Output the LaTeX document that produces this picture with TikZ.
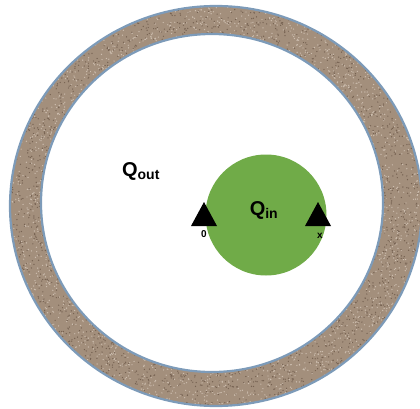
\documentclass[tikz,border=0pt]{standalone}
\usepackage{fontspec}
\setmainfont{Liberation Sans}
\definecolor{ringbrown}{RGB}{163,143,124}
\definecolor{ringdark}{RGB}{118,98,82}
\definecolor{ringlight}{RGB}{205,190,175}
\definecolor{ringblue}{RGB}{125,155,185}
\definecolor{ingreen}{RGB}{112,171,72}

\begin{document}
\begin{tikzpicture}[x=1pt, y=-1pt,
  qlabel/.style={font=\fontsize{20}{20}\selectfont\bfseries, inner sep=0pt},
  marklabel/.style={font=\fontsize{10}{10}\selectfont\bfseries, inner sep=0pt}]
\useasboundingbox (0,0) rectangle (420,409);
\fill[ringbrown, even odd rule] (216,206) ellipse (206 and 200)
  (212,203) ellipse (171 and 169);
\begin{scope}[even odd rule]
\clip (216,206) ellipse (206 and 200) (212,203) ellipse (171 and 169);
\pgfmathsetseed{11}
\foreach \i in {1,...,1800}{
  \pgfmathsetmacro\ang{360*rnd}
  \pgfmathsetmacro\rad{0.80+0.21*rnd}
  \fill[ringdark] ({214+\rad*206*cos(\ang)},{205+\rad*200*sin(\ang)}) circle (0.7);
  \pgfmathsetmacro\ang{360*rnd}
  \pgfmathsetmacro\rad{0.80+0.21*rnd}
  \fill[ringlight] ({214+\rad*206*cos(\ang)},{205+\rad*200*sin(\ang)}) circle (0.7);
}
\end{scope}
\draw[ringblue, line width=2.2pt] (216,206) ellipse (206 and 200);
\draw[ringblue, line width=2.2pt] (212,203) ellipse (171 and 169);
% inner core
\node[circle, fill=ingreen, minimum size=121pt, inner sep=0pt] (core) at (266,215) {};
% markers
\fill[black] (204,202) -- (217,226) -- (191,226) -- cycle;
\fill[black] (318,202) -- (331,226) -- (305,226) -- cycle;
\node[marklabel] (zero) at (204,234) {0};
\node[marklabel] (ex) at (320,236) {x};
% labels
\node[qlabel] (qout) at (141,171) {Q\textsubscript{out}};
\node[qlabel] (qin) at (264,210) {Q\textsubscript{in}};
\end{tikzpicture}
\end{document}
